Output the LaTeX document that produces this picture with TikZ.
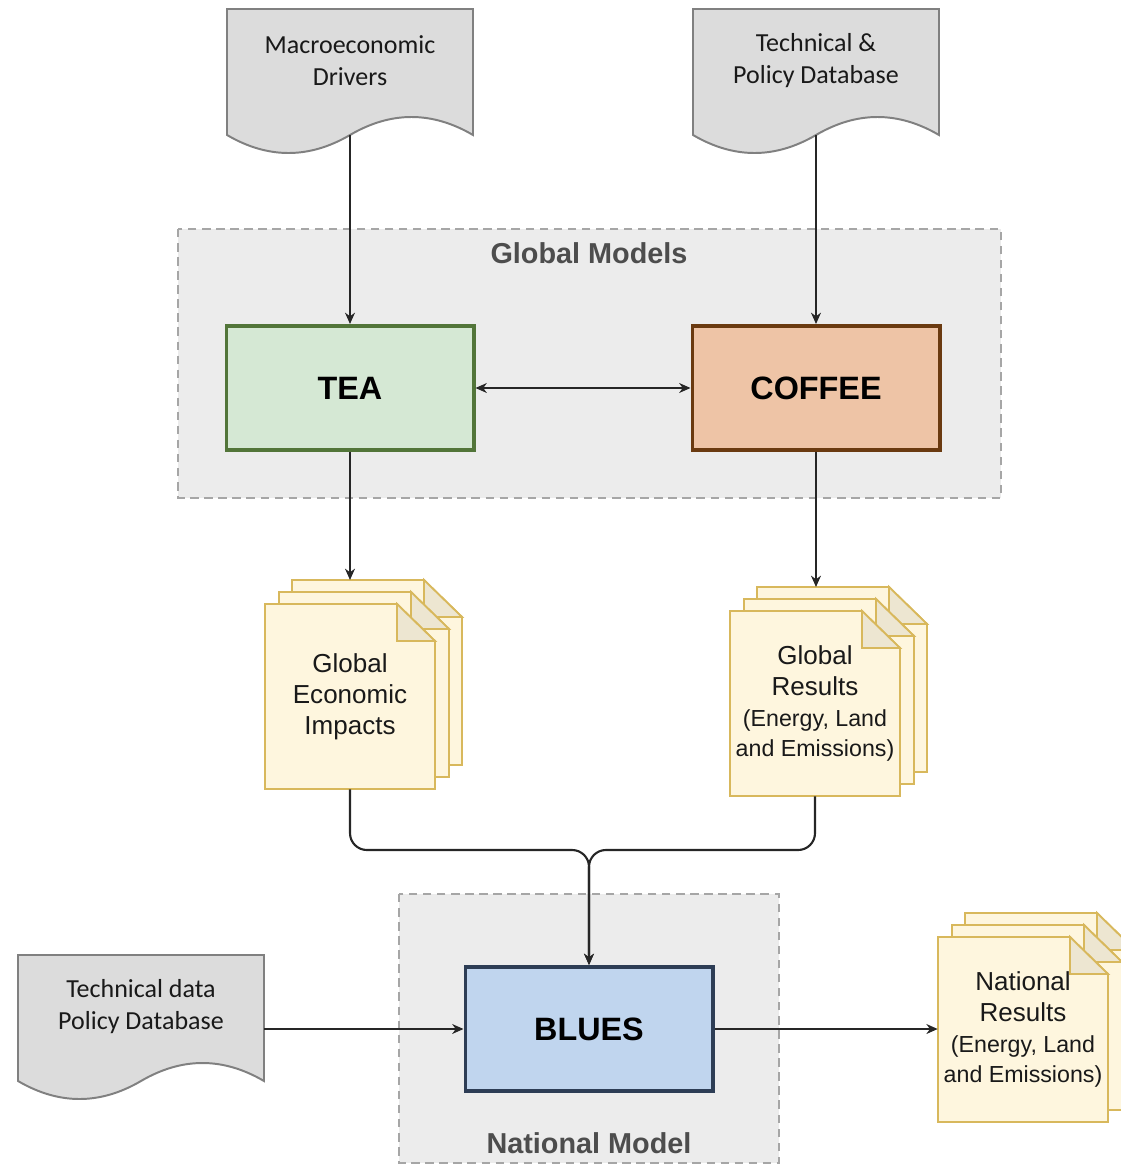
\documentclass[tikz,border=0pt]{standalone}
\usepackage{fontspec}
\setmainfont{Liberation Sans}
\newfontfamily\docfont{Carlito}
\usetikzlibrary{arrows.meta}

\definecolor{docfill}{HTML}{DCDCDC}
\definecolor{docline}{HTML}{808080}
\definecolor{groupfill}{HTML}{ECECEC}
\definecolor{groupline}{HTML}{A6A6A6}
\definecolor{grouptext}{HTML}{4D4D4D}
\definecolor{teafill}{HTML}{D5E8D4}
\definecolor{tealine}{HTML}{527539}
\definecolor{coffeefill}{HTML}{EEC4A6}
\definecolor{coffeeline}{HTML}{6A3A10}
\definecolor{bluesfill}{HTML}{C0D5EE}
\definecolor{huesline}{HTML}{2D3D55}
\definecolor{pagefill}{HTML}{FEF6DE}
\definecolor{pageline}{HTML}{D8B85C}
\definecolor{pagefold}{HTML}{EDE6D1}

\newcommand{\smalltext}{\fontsize{16.5}{21.5}\selectfont}

% wave document: name, x, y (top left), text
\newcommand{\wavedoc}[4]{%
\begin{scope}[shift={(#2,#3)}]
\draw[docshape] (0,0) -- (246,0) -- (246,126)
  .. controls (205,102) and (164,102) .. (123,126)
  .. controls (82,150) and (41,150) .. (0,126) -- cycle;
\node[doctext] (#1-text) at (123,52) {#4};
\node[docbox] (#1) at (123,63) {};
\end{scope}}

% stack of three pages: name, x, y (top left of front page), text
\newcommand{\pagestack}[4]{%
\begin{scope}[shift={(#2,#3)}]
\foreach \dx/\dy in {27/-24,14/-12,0/0}{
  \draw[pageshape] (\dx,\dy) -- ++(132,0) -- ++(38,37) -- ++(0,148) -- ++(-170,0) -- cycle;
  \draw[pageshape, fill=pagefold] (\dx+132,\dy) -- ++(0,37) -- ++(38,0) -- cycle;
}
\node[pagetext] (#1) at (85,92.5) {#4};
\coordinate (#1-top) at (85,-24);
\end{scope}}

\begin{document}
\begin{tikzpicture}[
    x=0.025cm, y=-0.025cm,
    docshape/.style={draw=docline, fill=docfill, line width=1.4pt},
    docbox/.style={minimum width=6.15cm, minimum height=3.15cm, inner sep=0pt},
    doctext/.style={inner sep=0pt, align=center, text=black!90,
      font=\docfont\fontsize{18.5}{22.7}\selectfont},
    pageshape/.style={draw=pageline, fill=pagefill, line width=1.3pt, line join=miter},
    pagetext/.style={minimum width=4.25cm, minimum height=4.625cm, inner sep=0pt,
      align=center, text=black!90, font=\fontsize{18.5}{22}\selectfont},
    model/.style={draw, line width=2.8pt, minimum width=6.175cm, minimum height=3.1cm,
      font=\bfseries\fontsize{23}{26}\selectfont},
    group/.style={draw=groupline, fill=groupfill, line width=1.4pt, dash pattern=on 6pt off 4pt},
    grouplabel/.style={text=grouptext, font=\bfseries\fontsize{20.5}{22}\selectfont},
    link/.style={draw=black!85, line width=1.5pt, -{Stealth[length=8pt,width=7pt,inset=2.5pt]}},
    ]
\useasboundingbox (0,0) rectangle (1120,1166);

% model groups
\draw[group] (178,229) rectangle (1001,498);
\node[grouplabel] (globallabel) at (589,253) {Global Models};
\draw[group] (399,894) rectangle (779,1163);
\node[grouplabel] (nationallabel) at (589,1143) {National Model};

% inputs
\wavedoc{macro}{227}{9}{Macroeconomic\\Drivers}
\wavedoc{techpol}{693}{9}{Technical \&\\Policy Database}
\wavedoc{techdata}{18}{955}{Technical data\\Policy Database}

% models
\node[model, draw=tealine, fill=teafill] (tea) at (350,388) {TEA};
\node[model, draw=coffeeline, fill=coffeefill] (coffee) at (816,388) {COFFEE};
\node[model, draw=huesline, fill=bluesfill] (blues) at (589,1029) {BLUES};

% outputs
\pagestack{gei}{265}{604}{Global\\Economic\\Impacts}
\pagestack{gres}{730}{611}{Global\\Results\\\smalltext(Energy, Land\\\smalltext and Emissions)}
\pagestack{nres}{938}{937}{National\\Results\\\smalltext(Energy, Land\\\smalltext and Emissions)}

\coordinate (merge) at (589,850);

\draw[link] (macro.south) -- (tea.north);
\draw[link] (techpol.south) -- (coffee.north);
\draw[link, {Stealth[length=8pt,width=7pt,inset=2.5pt]}-{Stealth[length=8pt,width=7pt,inset=2.5pt]}] (tea.east) -- (coffee.west);
\draw[link] (tea.south) -- (tea.south |- gei-top);
\draw[link] (coffee.south) -- (coffee.south |- gres-top);
\draw[link, rounded corners=12pt] (gei.south) |- (merge) -- (blues.north);
\draw[link, rounded corners=12pt] (gres.south) |- (merge) -- (blues.north);
\draw[link] (techdata.east |- blues.west) -- (blues.west);
\draw[link] (blues.east) -- (blues.east -| nres.west);
\end{tikzpicture}
\end{document}
